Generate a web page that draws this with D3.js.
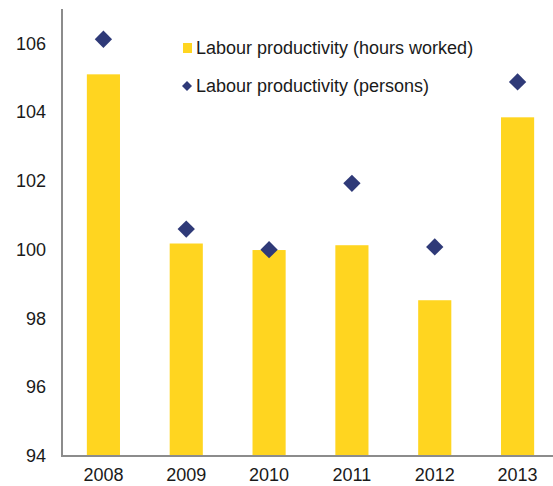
<!DOCTYPE html>
<html>
<head>
<meta charset="utf-8">
<script src="https://cdn.jsdelivr.net/npm/d3@7"></script>
<style>
  body { margin: 0; background: #fff; }
  text { font-family: "Liberation Sans", Arial, sans-serif; fill: #1a1a1a; }
</style>
</head>
<body>
<svg id="chart" width="553" height="486"></svg>
<script>
// data
var years = ["2008", "2009", "2010", "2011", "2012", "2013"];
var hoursWorked = [105.1, 100.18, 99.99, 100.13, 98.53, 103.85];
var persons = [106.12, 100.6, 100.0, 101.93, 100.08, 104.88];
var yTicks = [94, 96, 98, 100, 102, 104, 106];
var seriesNames = ["Labour productivity (hours worked)", "Labour productivity (persons)"];

var yellow = "#FFD520",
    navy = "#2F3A78",
    axisGrey = "#8C8C8C";

var svg = d3.select("#chart"),
    margin = {top: 9, left: 62, bottom: 456},
    fontSize = 18;

// x: band per year, y: linear index
var x = d3.scaleBand().domain(years).range([62, 559]).paddingInner(0.6).paddingOuter(0.3);
var y = d3.scaleLinear().domain([94, 107]).range([456, 9]);

// bars (hours worked)
svg.append("g").selectAll("rect")
  .data(hoursWorked)
  .enter().append("rect")
  .attr("x", function(d, i) { return x(years[i]); })
  .attr("y", function(d) { return y(d); })
  .attr("width", x.bandwidth())
  .attr("height", function(d) { return y(94) - y(d); })
  .attr("fill", yellow);

// diamonds (persons)
var diamond = d3.symbol().type(d3.symbolSquare).size(150);
svg.append("g").selectAll("path")
  .data(persons)
  .enter().append("path")
  .attr("d", diamond)
  .attr("transform", function(d, i) {
    return "translate(" + (x(years[i]) + x.bandwidth() / 2) + "," + y(d) + ") rotate(45)";
  })
  .attr("fill", navy);

// y axis
var yAxis = svg.append("g")
  .attr("transform", "translate(" + margin.left + ",0)")
  .call(d3.axisLeft(y).tickValues(yTicks).tickSize(0).tickPadding(16));
yAxis.select(".domain").remove();
yAxis.selectAll("text")
  .style("font-size", fontSize + "px")
  .attr("font-family", null)
  .attr("fill", "#1a1a1a");
svg.append("line")
  .attr("x1", margin.left).attr("x2", margin.left)
  .attr("y1", y(107)).attr("y2", y(94))
  .attr("stroke", axisGrey).attr("stroke-width", 2);

// x axis
var xAxis = svg.append("g")
  .attr("transform", "translate(0," + y(94) + ")")
  .call(d3.axisBottom(x).tickSize(0).tickPadding(12));
xAxis.select(".domain").remove();
xAxis.selectAll("text")
  .style("font-size", fontSize + "px")
  .attr("font-family", null)
  .attr("fill", "#1a1a1a");
svg.append("line")
  .attr("x1", margin.left - 1).attr("x2", 553)
  .attr("y1", y(94)).attr("y2", y(94))
  .attr("stroke", axisGrey).attr("stroke-width", 2);

// legend
var legend = svg.append("g").attr("transform", "translate(183,0)");
legend.append("rect")
  .attr("x", 0).attr("y", 43).attr("width", 9).attr("height", 10)
  .attr("fill", yellow);
legend.append("text")
  .attr("x", 13).attr("y", 54)
  .style("font-size", fontSize + "px")
  .text(seriesNames[0]);
legend.append("path")
  .attr("d", d3.symbol().type(d3.symbolSquare).size(50))
  .attr("transform", "translate(4,86) rotate(45)")
  .attr("fill", navy);
legend.append("text")
  .attr("x", 13).attr("y", 92)
  .style("font-size", fontSize + "px")
  .text(seriesNames[1]);
</script>
</body>
</html>
